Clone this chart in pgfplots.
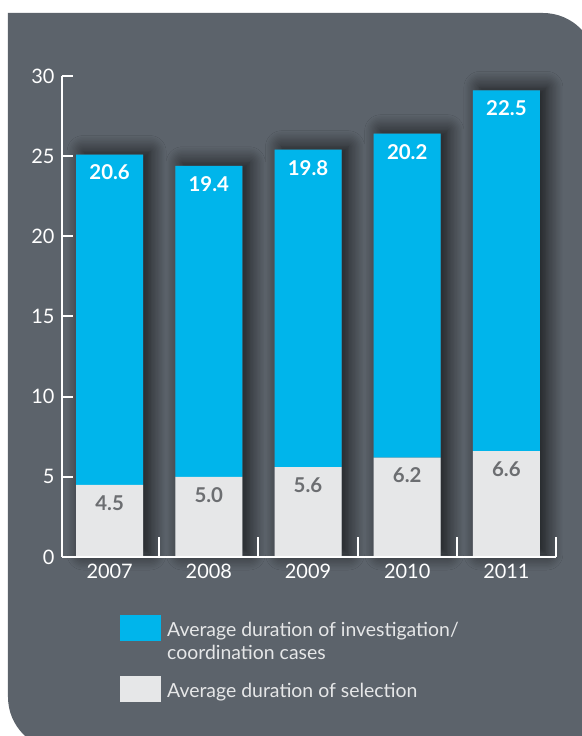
\documentclass[border=0pt]{standalone}
\usepackage{fontspec}
\setmainfont{Lato}
\usepackage{pgfplots}
\pgfplotsset{compat=1.18}
\usetikzlibrary{shadows.blur}

\definecolor{panel}{RGB}{92,99,107}
\definecolor{cyanbar}{RGB}{0,181,235}
\definecolor{greybar}{RGB}{230,231,232}
\definecolor{valgrey}{RGB}{108,110,113}

\pgfplotsset{
  chartbox/.style={
    scale only axis, width=494bp, height=481bp,
    xmin=-0.48, xmax=4.5, ymin=0, ymax=30,
    clip=false,
  },
  swatch/.style={legend image code/.code={\fill[##1] (0bp,-5bp) rectangle (41bp,21bp);}},
  vallabel/.style={draw=none, mark=none, nodes near coords, point meta=explicit symbolic,
    every node near coord/.style={#1, font=\fontsize{20.5}{24}\selectfont\bfseries, anchor=center, yshift=-18bp}},
}

\begin{document}
\begin{tikzpicture}[x=1bp,y=1bp]
\begin{scope}[shift={(-62,-179)}]
  \useasboundingbox (0,0) rectangle (582,736);
  \fill[white] (0,0) rectangle (582,736);
  % panel with two rounded corners
  \fill[panel] (8,723) -- (543,723) arc (90:0:53) -- (596,-14) -- (61,-14) arc (270:180:53) -- cycle;
\end{scope}

% shadows under the whole columns
\begin{axis}[chartbox, hide axis, ybar, bar width=67bp]
  \addplot[fill=panel, draw=none,
    blur shadow={shadow xshift=7bp, shadow yshift=3bp, shadow blur radius=16bp,
      shadow blur steps=12, shadow opacity=75}]
    coordinates {(0,25.1) (1,24.4) (2,25.4) (3,26.4) (4,29.1)};
\end{axis}

\begin{axis}[chartbox,
  ybar stacked, bar width=67bp,
  axis on top,
  axis x line*=bottom, axis y line*=left,
  axis line style={white, line width=2bp, -},
  every tick/.style={white, line width=2bp},
  tick align=inside,
  major tick length=11bp, minor tick length=20bp,
  xtick={0,1,2,3,4}, xticklabels={2007,2008,2009,2010,2011},
  minor xtick={0.5,1.5,2.5,3.5,4.5},
  major x tick style={draw=none},
  ytick={0,5,10,15,20,25,30},
  /pgf/number format/assume math mode=true,
  tick label style={white, font=\fontsize{20}{24}\selectfont},
  yticklabel style={xshift=-4bp},
  xticklabel style={yshift=-4bp},
  reverse legend,
  legend style={at={(0.1174,-0.1206)}, anchor=north west, draw=none, fill=none,
    inner sep=0pt, nodes={inner sep=0pt}, column sep=6bp, row sep=35bp,
    cells={anchor=base west},
    text=greybar, font=\fontsize{19.5}{23}\selectfont},
]
  \addplot[fill=greybar, draw=none, swatch]
    coordinates {(0,4.5) (1,5.0) (2,5.6) (3,6.2) (4,6.6)};
  \addlegendentry{Average duration of selection}
  \addplot[fill=cyanbar, draw=none, swatch]
    coordinates {(0,20.6) (1,19.4) (2,19.8) (3,20.2) (4,22.5)};
  \addlegendentry{\parbox[t]{340bp}{\fontsize{19.5}{23}\selectfont Average duration of investigation/\\coordination cases}}
\end{axis}

% value labels, placed at the top of each segment
\begin{axis}[chartbox, hide axis]
  \addplot[vallabel=valgrey]
    coordinates {(0,4.5)[4.5] (1,5.0)[5.0] (2,5.6)[5.6] (3,6.2)[6.2] (4,6.6)[6.6]};
  \addplot[vallabel=white]
    coordinates {(0,25.1)[20.6] (1,24.4)[19.4] (2,25.4)[19.8] (3,26.4)[20.2] (4,29.1)[22.5]};
\end{axis}
\end{tikzpicture}
\end{document}
